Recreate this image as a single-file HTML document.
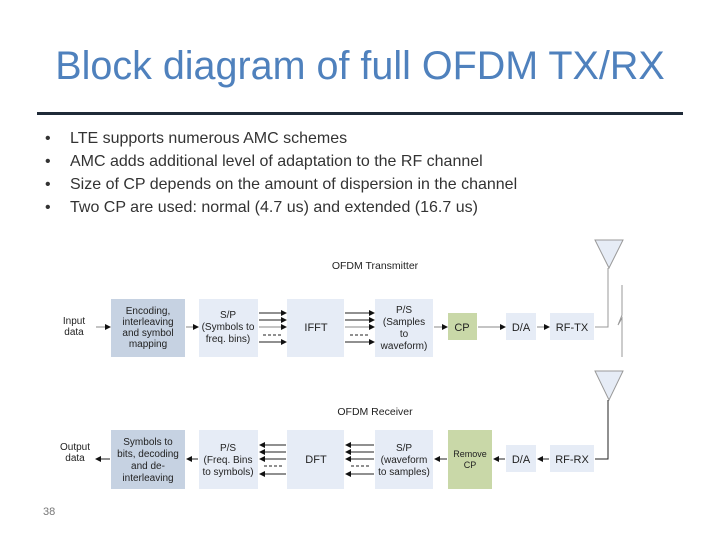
<!DOCTYPE html>
<html><head><meta charset="utf-8"><style>
body{margin:0;width:720px;height:540px;background:#fff;position:relative;overflow:hidden;font-family:"Liberation Sans",sans-serif}
.t{position:absolute;left:0;width:720px;top:44px;text-align:center;font-size:39.5px;color:#4f81bd;}
.rule{position:absolute;left:37px;top:112px;width:646px;height:3px;background:#1f2a38}
.b{position:absolute;font-size:16px;color:#333;}
</style></head><body>
<div class="t">Block diagram of full OFDM TX/RX</div>
<div class="rule"></div>
<div class="b" style="left:45px;top:130px">•</div><div class="b" style="left:70px;top:130px">LTE supports numerous AMC schemes</div>
<div class="b" style="left:45px;top:153px">•</div><div class="b" style="left:70px;top:153px">AMC adds additional level of adaptation to the RF channel</div>
<div class="b" style="left:45px;top:176px">•</div><div class="b" style="left:70px;top:176px">Size of CP depends on the amount of dispersion in the channel</div>
<div class="b" style="left:45px;top:199px">•</div><div class="b" style="left:70px;top:199px">Two CP are used: normal (4.7 us) and extended (16.7 us)</div>
<div class="b" style="left:43px;top:506px;font-size:11px;color:#777">38</div>
<svg width="720" height="540" style="position:absolute;left:0;top:0" font-family="Liberation Sans, sans-serif" font-size="10" fill="#222">
<defs><marker id="a" markerWidth="6" markerHeight="6" refX="5" refY="3" orient="auto"><path d="M0,0L6,3L0,6z" fill="#111"/></marker></defs>
<g stroke="#fff" stroke-width="0">
<rect x="111" y="299" width="74" height="58" fill="#c6d2e2"/>
<rect x="199" y="299" width="59" height="58" fill="#e6ecf6"/>
<rect x="287" y="299" width="57" height="58" fill="#e6ecf6"/>
<rect x="375" y="299" width="58" height="58" fill="#e6ecf6"/>
<rect x="448" y="313" width="29" height="27" fill="#c9d8a8"/>
<rect x="506" y="313" width="30" height="27" fill="#e6ecf6"/>
<rect x="550" y="313" width="44" height="27" fill="#e6ecf6"/>
<rect x="111" y="430" width="74" height="59" fill="#c6d2e2"/>
<rect x="199" y="430" width="59" height="59" fill="#e6ecf6"/>
<rect x="287" y="430" width="57" height="59" fill="#e6ecf6"/>
<rect x="375" y="430" width="58" height="59" fill="#e6ecf6"/>
<rect x="448" y="430" width="44" height="59" fill="#c9d8a8"/>
<rect x="506" y="445" width="30" height="27" fill="#e6ecf6"/>
<rect x="550" y="445" width="44" height="27" fill="#e6ecf6"/>
</g>
<g stroke="#222" stroke-width="1" fill="none">
<line x1="96" y1="327" x2="110" y2="327" marker-end="url(#a)" stroke="#888"/>
<line x1="186" y1="327" x2="198" y2="327" marker-end="url(#a)" stroke="#888"/>
<line x1="259" y1="313" x2="286" y2="313" marker-end="url(#a)"/>
<line x1="259" y1="320" x2="286" y2="320" marker-end="url(#a)"/>
<line x1="259" y1="327" x2="286" y2="327" marker-end="url(#a)" stroke="#888"/>
<line x1="259" y1="342" x2="286" y2="342" marker-end="url(#a)"/>
<line x1="263" y1="335" x2="282" y2="335" stroke-dasharray="3,2"/>
<line x1="345" y1="313" x2="374" y2="313" marker-end="url(#a)"/>
<line x1="345" y1="320" x2="374" y2="320" marker-end="url(#a)"/>
<line x1="345" y1="327" x2="374" y2="327" marker-end="url(#a)" stroke="#888"/>
<line x1="345" y1="342" x2="374" y2="342" marker-end="url(#a)"/>
<line x1="350" y1="335" x2="369" y2="335" stroke-dasharray="3,2"/>
<line x1="434" y1="327" x2="447" y2="327" marker-end="url(#a)" stroke="#888"/>
<line x1="478" y1="327" x2="505" y2="327" marker-end="url(#a)" stroke="#888"/>
<line x1="537" y1="327" x2="549" y2="327" marker-end="url(#a)" stroke="#888"/>
<polyline points="595,327 608,327 608,268" stroke="#999"/>
<polyline points="622,285 622,315 618,325 622,318 622,357" stroke="#999"/>
<path d="M595,240L623,240L609,268z" fill="#e6ecf6" stroke="#999"/>
<path d="M595,371L623,371L609,400z" fill="#e6ecf6" stroke="#999"/>
<polyline points="608,400 608,459 595,459"/>
<line x1="549" y1="459" x2="538" y2="459" marker-end="url(#a)"/>
<line x1="505" y1="459" x2="494" y2="459" marker-end="url(#a)"/>
<line x1="447" y1="459" x2="435" y2="459" marker-end="url(#a)"/>
<line x1="374" y1="445" x2="346" y2="445" marker-end="url(#a)"/>
<line x1="374" y1="452" x2="346" y2="452" marker-end="url(#a)"/>
<line x1="374" y1="459" x2="346" y2="459" marker-end="url(#a)"/>
<line x1="374" y1="474" x2="346" y2="474" marker-end="url(#a)"/>
<line x1="351" y1="466" x2="370" y2="466" stroke-dasharray="3,2"/>
<line x1="286" y1="445" x2="260" y2="445" marker-end="url(#a)"/>
<line x1="286" y1="452" x2="260" y2="452" marker-end="url(#a)"/>
<line x1="286" y1="459" x2="260" y2="459" marker-end="url(#a)"/>
<line x1="286" y1="474" x2="260" y2="474" marker-end="url(#a)"/>
<line x1="264" y1="466" x2="282" y2="466" stroke-dasharray="3,2"/>
<line x1="198" y1="459" x2="187" y2="459" marker-end="url(#a)"/>
<line x1="110" y1="459" x2="96" y2="459" marker-end="url(#a)"/>
</g>
<g text-anchor="middle">
<text x="375" y="269" font-size="10.5">OFDM Transmitter</text>
<text x="375" y="415" font-size="10.5">OFDM Receiver</text>
<text x="74" y="324">Input</text><text x="74" y="335">data</text>
<text x="75" y="450">Output</text><text x="75" y="461">data</text>
<text x="148" y="314">Encoding,</text><text x="148" y="325">interleaving</text><text x="148" y="336">and symbol</text><text x="148" y="347">mapping</text>
<text x="228" y="318">S/P</text><text x="228" y="330">(Symbols to</text><text x="228" y="342">freq. bins)</text>
<text x="316" y="331" font-size="11">IFFT</text>
<text x="404" y="313">P/S</text><text x="404" y="325">(Samples</text><text x="404" y="337">to</text><text x="404" y="349">waveform)</text>
<text x="462" y="331" font-size="11">CP</text>
<text x="521" y="331" font-size="11">D/A</text>
<text x="572" y="331" font-size="11">RF-TX</text>
<text x="148" y="445">Symbols to</text><text x="148" y="457">bits, decoding</text><text x="148" y="469">and de-</text><text x="148" y="481">interleaving</text>
<text x="228" y="451">P/S</text><text x="228" y="463">(Freq. Bins</text><text x="228" y="475">to symbols)</text>
<text x="316" y="463" font-size="11">DFT</text>
<text x="404" y="451">S/P</text><text x="404" y="463">(waveform</text><text x="404" y="475">to samples)</text>
<text x="470" y="457" font-size="9">Remove</text><text x="470" y="468" font-size="9">CP</text>
<text x="521" y="463" font-size="11">D/A</text>
<text x="572" y="463" font-size="11">RF-RX</text>
</g>
</svg>
</body></html>
